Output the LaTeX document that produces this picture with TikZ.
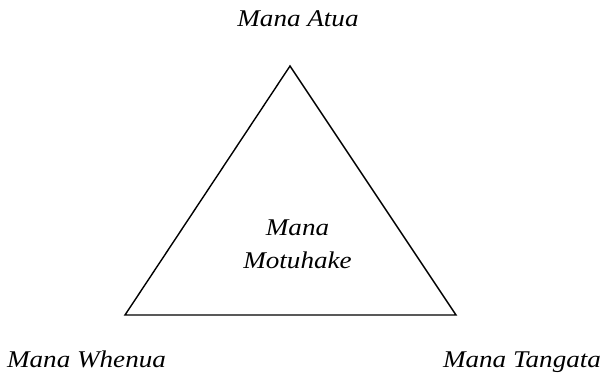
\documentclass[tikz,border=0pt]{standalone}
\usepackage{fontspec}
\setmainfont{Liberation Serif}[FakeStretch=1.13]
\begin{document}
\begin{tikzpicture}[x=1pt,y=-1pt,
  lab/.style={font=\fontsize{24}{27}\selectfont\itshape, inner sep=0pt, anchor=base},
  edge/.style={line width=1.4pt, line join=miter}]
\useasboundingbox (0,0) rectangle (603,373);
\coordinate (apex) at (290,66);
\coordinate (bl) at (125,315);
\coordinate (br) at (456,315);
\draw[edge] (apex) -- (bl) -- (br) -- cycle;
\node[lab] (atua) at (298,26) {Mana Atua};
\node[lab] (mot1) at (297.5,235) {Mana};
\node[lab] (mot2) at (297.5,268) {Motuhake};
\node[lab] (whenua) at (86.5,367) {Mana Whenua};
\node[lab] (tangata) at (522,367) {Mana Tangata};
\end{tikzpicture}
\end{document}
